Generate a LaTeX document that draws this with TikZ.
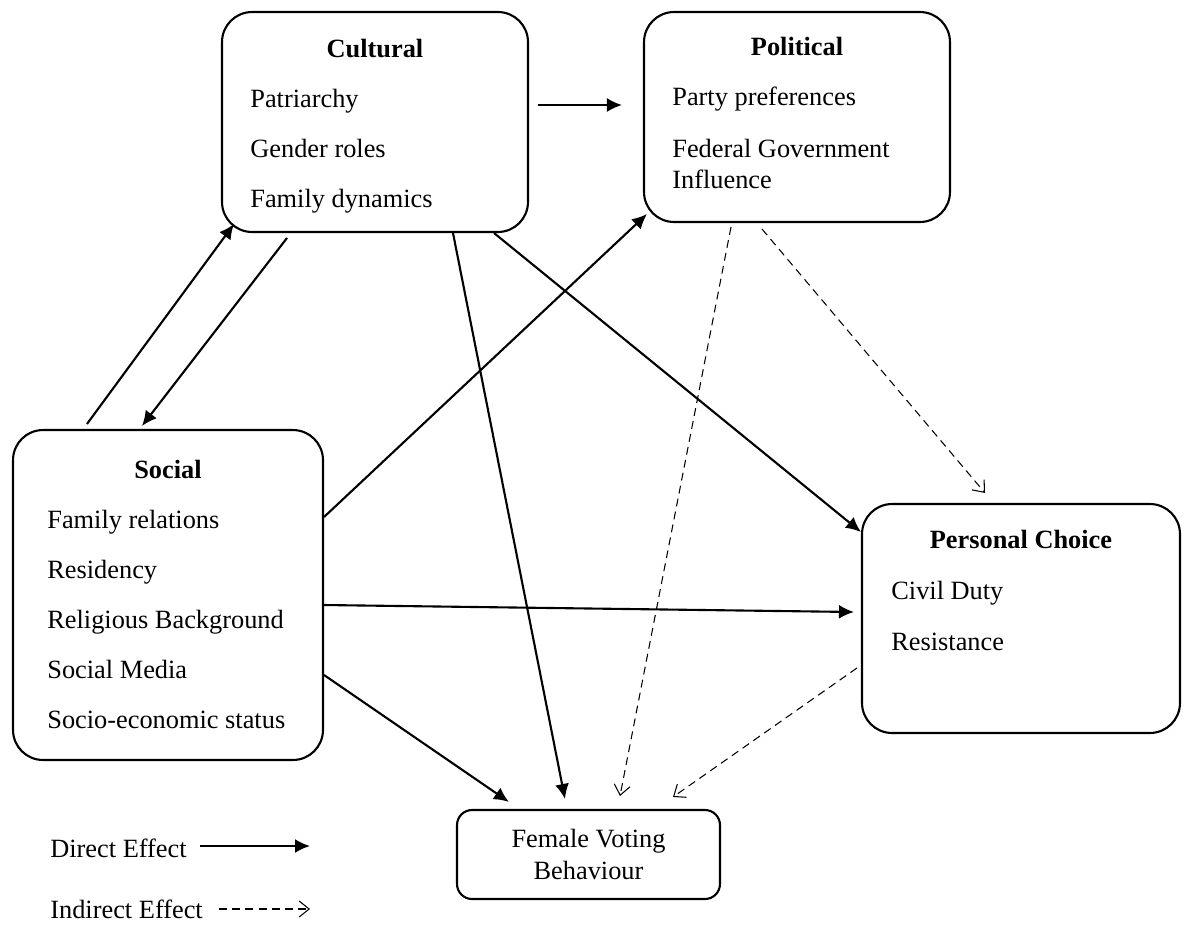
\documentclass[tikz,border=0pt]{standalone}
\usepackage{fontspec}
\setmainfont{Liberation Serif}
\usetikzlibrary{arrows.meta,calc}

\tikzset{
	factor/.style={draw, line width=1.2pt, rounded corners=0.6cm, inner sep=0pt},
	item/.style={anchor=base west, inner sep=0pt},
	head/.style={anchor=base, inner sep=0pt, font=\fontsize{15}{18}\selectfont\bfseries},
	direct/.style={line width=1.2pt, -{Latex[length=3mm,width=2.8mm]}},
	indirect/.style={line width=0.6pt, dash pattern=on 4.5pt off 3pt, -{Straight Barb[length=2mm,width=3.2mm]}}
}

\begin{document}
\begin{tikzpicture}[x=0.02cm, y=-0.02cm, font=\fontsize{15}{18}\selectfont]
		\useasboundingbox (0,0) rectangle (1187,924);
		% the four factors and the outcome
		\node[factor, minimum width=6.12cm, minimum height=4.4cm] (cult) at (375,122) {};
		\node[factor, minimum width=6.12cm, minimum height=4.2cm] (pol) at (797,117) {};
		\node[factor, minimum width=6.2cm, minimum height=6.6cm] (soc) at (168,595) {};
		\node[factor, minimum width=6.36cm, minimum height=4.58cm] (pers) at (1021,618.5) {};
		\node[factor, rounded corners=0.3cm, minimum width=5.26cm, minimum height=1.78cm, align=center] (fem) at (588.5,854.5) {Female Voting\\Behaviour};
		% titles and items
		\node[head] (culthead) at (375,57) {Cultural};
		\foreach \t [count=\i] in {Patriarchy, Gender roles, Family dynamics} {
			\node[item] (cult\i) at (250,57+50*\i) {\t};
		}
		\node[head] (polhead) at (797,55) {Political};
		\node[item] (pol1) at (672,105) {Party preferences};
		\node[item] (pol2) at (672,157) {Federal Government};
		\node[item] (pol3) at (672,188) {Influence};
		\node[head] (sochead) at (168,478) {Social};
		\foreach \t [count=\i] in {Family relations, Residency, Religious Background, Social Media, Socio-economic status} {
			\node[item] (soc\i) at (47,478+50*\i) {\t};
		}
		\node[head] (pershead) at (1021,548) {Personal Choice};
		\foreach \t [count=\i] in {Civil Duty, Resistance} {
			\node[item] (pers\i) at (891,548+51*\i) {\t};
		}
		% direct effects
		\draw[direct] ($(cult.east)+(9,-17)$) -- ($(pol.west)+(-21,-12)$);
		\draw[direct] ($(soc.north west)+(75,-5)$) -- ($(cult.south west)+(13,-9)$);
		\draw[direct] ($(cult.south west)+(66,5)$) -- ($(soc.north west)+(130,-3)$);
		\draw[direct] ($(cult.south)+(78,0)$) -- ($(fem.north)+(-23.5,-10)$);
		\draw[direct] ($(cult.south east)+(-35,0)$) -- ($(pers.north west)+(0,29)$);
		\draw[direct] ($(soc.east)+(0,-78)$) -- ($(pol.south west)+(4,-9)$);
		\draw[direct] ($(soc.east)+(0,10)$) -- ($(pers.west)+(-7,-6.5)$);
		\draw[direct] ($(soc.east)+(0,80)$) -- ($(fem.north west)+(53,-7)$);
		% indirect effects
		\draw[indirect] ($(pol.south)+(-66,4)$) -- ($(fem.north)+(31.5,-13)$);
		\draw[indirect] ($(pol.south)+(-35,6)$) -- ($(pers.north)+(-36,-10)$);
		\draw[indirect] ($(pers.west)+(-4,49.5)$) -- ($(fem.north east)+(-48,-12)$);
		% legend
		\node[item] (lgdir) at (50,857) {Direct Effect};
		\node[item] (lgind) at (50,918) {Indirect Effect};
		\coordinate (dirend) at (310,846);
		\coordinate (indend) at (310,909);
		\draw[direct] ($(lgdir.base east)+(13,-11)$) -- (dirend);
		\draw[indirect] ($(lgind.base east)+(16,-9)$) -- (indend);
\end{tikzpicture}
\end{document}
